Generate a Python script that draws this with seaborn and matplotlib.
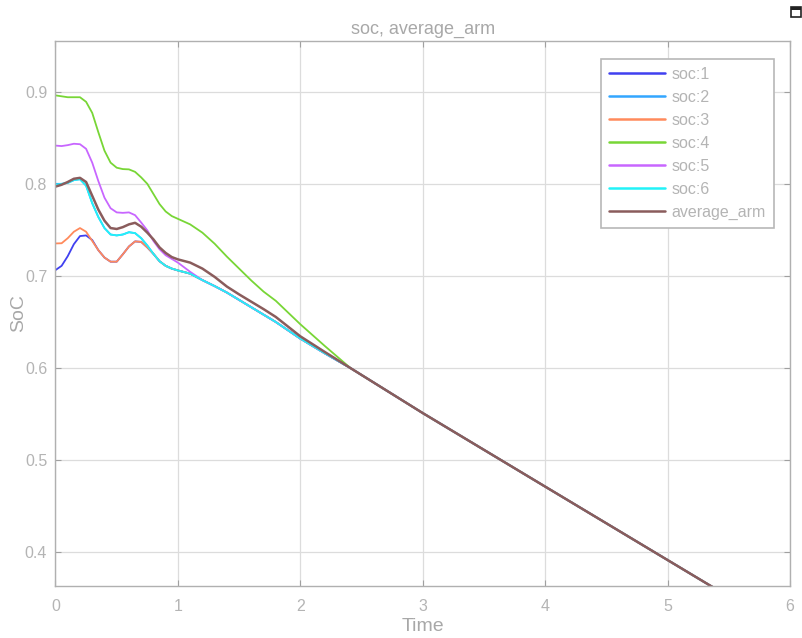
import numpy as np
import pandas as pd
import matplotlib
matplotlib.use("Agg")
import matplotlib.pyplot as plt
from matplotlib.patches import Rectangle
import seaborn as sns

# ---- data ----
time = [0.0, 0.05, 0.1, 0.15, 0.2, 0.25, 0.3, 0.35, 0.4, 0.45, 0.5, 0.55, 0.6, 0.65,
        0.7, 0.75, 0.8, 0.85, 0.9, 0.95, 1.0, 1.1, 1.2, 1.3, 1.4, 1.5, 1.6, 1.7, 1.8,
        2.0, 2.2, 2.41, 3.0, 4.0, 5.0, 6.0]

soc1 = [0.7064, 0.711, 0.7215, 0.7345, 0.7433, 0.744, 0.739, 0.728, 0.720, 0.7155, 0.7155,
        0.7235, 0.732, 0.7375, 0.737, 0.731, 0.724, 0.716, 0.711, 0.708, 0.706, 0.7025,
        0.6955, 0.689, 0.682, 0.674, 0.666, 0.658, 0.650, 0.632, 0.616, 0.600,
        0.5512, 0.4714, 0.3917, 0.312]
soc2 = [0.800, 0.800, 0.801, 0.804, 0.805, 0.798, 0.779, 0.764, 0.752, 0.745, 0.744,
        0.745, 0.7475, 0.7465, 0.741, 0.733, 0.724, 0.716, 0.711, 0.708, 0.706, 0.7025,
        0.6955, 0.689, 0.682, 0.674, 0.666, 0.658, 0.650, 0.632, 0.616, 0.600,
        0.5512, 0.4714, 0.3917, 0.312]
soc3 = [0.7353, 0.7355, 0.741, 0.748, 0.752, 0.748, 0.738, 0.728, 0.720, 0.7155, 0.7155,
        0.7235, 0.732, 0.7375, 0.737, 0.731, 0.724, 0.716, 0.711, 0.708, 0.706, 0.7025,
        0.6955, 0.689, 0.682, 0.674, 0.666, 0.658, 0.650, 0.632, 0.616, 0.600,
        0.5512, 0.4714, 0.3917, 0.312]
soc4 = [0.896, 0.895, 0.894, 0.894, 0.894, 0.889, 0.877, 0.856, 0.836, 0.823, 0.8175,
        0.816, 0.8157, 0.813, 0.807, 0.800, 0.789, 0.778, 0.770, 0.765, 0.762, 0.756,
        0.747, 0.735, 0.721, 0.708, 0.695, 0.683, 0.673, 0.6476, 0.624, 0.600,
        0.5512, 0.4714, 0.3917, 0.312]
soc5 = [0.8415, 0.841, 0.842, 0.8435, 0.843, 0.838, 0.823, 0.803, 0.785, 0.7735, 0.769,
        0.7685, 0.769, 0.766, 0.758, 0.7495, 0.738, 0.729, 0.7225, 0.7185, 0.7145, 0.7045,
        0.6955, 0.689, 0.682, 0.674, 0.666, 0.658, 0.650, 0.632, 0.616, 0.600,
        0.5512, 0.4714, 0.3917, 0.312]
soc6 = [0.799, 0.800, 0.801, 0.804, 0.805, 0.798, 0.779, 0.764, 0.752, 0.745, 0.744,
        0.745, 0.7475, 0.7465, 0.741, 0.733, 0.724, 0.716, 0.711, 0.708, 0.706, 0.7025,
        0.6955, 0.689, 0.682, 0.674, 0.666, 0.658, 0.650, 0.632, 0.616, 0.600,
        0.5512, 0.4714, 0.3917, 0.312]
average_arm = [0.797, 0.799, 0.802, 0.8055, 0.8065, 0.802, 0.787, 0.772, 0.760, 0.752, 0.751,
               0.753, 0.756, 0.7577, 0.7535, 0.747, 0.7397, 0.731, 0.725, 0.7205, 0.718, 0.7145,
               0.708, 0.699, 0.6885, 0.680, 0.672, 0.664, 0.6555, 0.6345, 0.6175, 0.600,
               0.5512, 0.4714, 0.3917, 0.312]

series_names = ["soc:1", "soc:2", "soc:3", "soc:4", "soc:5", "soc:6", "average_arm"]
series_values = [soc1, soc2, soc3, soc4, soc5, soc6, average_arm]
series_colors = ["#4040f0", "#33a6ff", "#ff8a5c", "#78d636", "#c866ff", "#22f2f8", "#8a5c5c"]

x_ticks = [0, 1, 2, 3, 4, 5, 6]
y_ticks = [0.4, 0.5, 0.6, 0.7, 0.8, 0.9]

# ---- build long table ----
frames = []
for name, vals in zip(series_names, series_values):
    frames.append(pd.DataFrame({"Time": time, "SoC": vals, "series": name}))
df = pd.concat(frames, ignore_index=True)

sns.set_theme(style="whitegrid")
plt.rcParams["font.family"] = ["Liberation Sans", "DejaVu Sans"]

fig = plt.figure(figsize=(8.02, 6.38), dpi=100)
ax = fig.add_axes([0.0692, 0.0815, 0.9158, 0.8542])

sns.lineplot(data=df, x="Time", y="SoC", hue="series", hue_order=series_names,
             palette=dict(zip(series_names, series_colors)), linewidth=1.3,
             ax=ax, legend=True, estimator=None, sort=False)

for line, name in zip(ax.get_lines(), series_names):
    line.set_solid_joinstyle("round")
    if name == "average_arm":
        line.set_linewidth(1.8)

ax.set_xlim(0, 6)
ax.set_ylim(0.3635, 0.955)
ax.set_xticks(x_ticks)
ax.set_xticklabels([str(v) for v in x_ticks])
ax.set_yticks(y_ticks)
ax.set_yticklabels([f"{v:.1f}" for v in y_ticks])

grey_txt = "#b4b4b4"
ax.set_facecolor("white")
ax.grid(True, color="#dcdcdc", linewidth=0.9)
for sp in ax.spines.values():
    sp.set_visible(True)
    sp.set_color("#b0b0b0")
    sp.set_linewidth(1.0)
ax.tick_params(axis="both", which="both", direction="in", length=4, width=0.8,
               color="#a0a0a0", labelcolor=grey_txt, labelsize=11.5,
               top=True, right=True, bottom=True, left=True)
ax.tick_params(axis="y", pad=6)
ax.tick_params(axis="x", pad=9)

ax.set_xlabel("Time", color="#a8a8a8", fontsize=14)
ax.set_ylabel("SoC", color="#a8a8a8", fontsize=14)
ax.xaxis.set_label_coords(0.5, -0.058)
ax.yaxis.set_label_coords(-0.038, 0.5)
ax.set_title("soc, average_arm", color="#a8a8a8", fontsize=13, pad=5)

handles, labels = ax.get_legend_handles_labels()
leg = ax.legend(handles, labels, loc="upper right", bbox_to_anchor=(0.978, 0.967),
                borderaxespad=0.0, frameon=True, fancybox=False, fontsize=11.5,
                handlelength=3.5, handletextpad=0.4, borderpad=0.5, labelspacing=0.5,
                edgecolor="#b8b8b8", facecolor="white", framealpha=1.0)
leg.get_frame().set_linewidth(1.2)
for t in leg.get_texts():
    t.set_color(grey_txt)
for h in leg.get_lines():
    h.set_linewidth(1.8)

# small export icon drawn as shapes (glyph not available in installed fonts)
W, H = 802.0, 638.0
fig.patches.append(Rectangle((791 / W, 1 - 17 / H), 10 / W, 10 / H, transform=fig.transFigure,
                             fill=False, edgecolor="#222222", linewidth=1.2))
fig.patches.append(Rectangle((791 / W, 1 - 10 / H), 10 / W, 3 / H, transform=fig.transFigure,
                             facecolor="#222222", edgecolor="none"))

fig.savefig("out.png", dpi=100, facecolor="white")
